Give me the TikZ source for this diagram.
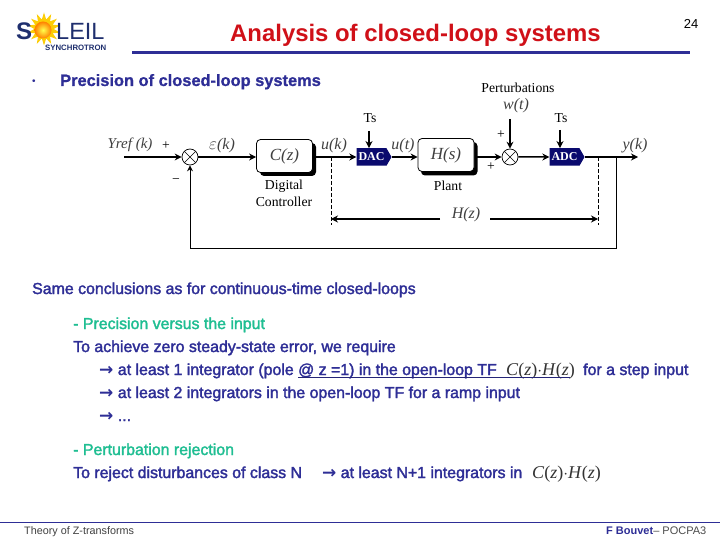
\documentclass[tikz,border=0pt]{standalone}
\usepackage{fontspec}
\setmainfont{Liberation Sans}
\newfontfamily\serifface{Liberation Serif}
\newfontfamily\smear[FakeBold=2]{Liberation Sans}
\newfontfamily\headface[FakeBold=1]{Liberation Sans Bold}
\newfontfamily\arrowface{DejaVu Sans Bold}
\usetikzlibrary{arrows.meta,shapes.geometric,shapes.symbols}
\definecolor{slideblue}{HTML}{2E2E96}
\definecolor{slidegreen}{HTML}{1FBE92}
\definecolor{titlered}{HTML}{D01018}
\definecolor{navybox}{HTML}{0A0A6E}
\definecolor{logonavy}{HTML}{1F2F6E}
\newcommand{\thenthe}{{\arrowface\fontsize{17}{17}\selectfont →}}
\newcommand{\CH}{{\serifface\fontsize{18}{18}\selectfont\textcolor{black!80}{\textit{C}(\textit{z})$\cdot$\textit{H}(\textit{z})}}}
\tikzset{
  x=1pt,y=-1pt,
  body/.style={anchor=base west,inner sep=0pt,text=slideblue,font=\smear\fontsize{15.9}{16}\selectfont},
  green/.style={body,text=slidegreen},
  serif/.style={inner sep=0pt,align=center,font=\serifface\fontsize{13.7}{17}\selectfont},
  mathlbl/.style={inner sep=0pt,text=black!75,font=\serifface\itshape\fontsize{16}{16}\selectfont},
  block/.style={draw=black,fill=white,rounded corners=4pt,line width=0.8pt,minimum width=57pt,minimum height=32pt,inner sep=0pt},
  summer/.style={circle,draw=black,line width=0.7pt,fill=white,minimum size=16pt,inner sep=0pt,
    path picture={\draw[line width=0.6pt] (path picture bounding box.north west)--(path picture bounding box.south east)
      (path picture bounding box.north east)--(path picture bounding box.south west);}},
  converter/.style={signal,signal to=east,signal pointer angle=120,fill=navybox,text=white,inner sep=0pt,minimum width=35pt,minimum height=17.5pt,
    font=\serifface\bfseries\fontsize{12}{12}\selectfont},
  conn/.style={line width=1.5pt,-{Stealth[length=7pt,width=7pt]}},
  thin conn/.style={line width=0.9pt},
  dash guide/.style={line width=0.7pt,dash pattern=on 4pt off 2pt},
}
\begin{document}
\begin{tikzpicture}
\useasboundingbox (0,0) rectangle (720,540);
\fill[white] (0,0) rectangle (720,540);
% logo
\node[star,star points=14,star point ratio=1.7,fill=yellow!65!orange,minimum size=33pt,inner sep=0pt] (sunrays) at (44,29) {};
\node[circle,inner color=yellow!70!white,outer color=orange,minimum size=17pt,inner sep=0pt] (sundisc) at (43,30) {};
\node[anchor=base west,inner sep=0pt,text=logonavy,font=\bfseries\fontsize{24}{24}\selectfont] (logoS) at (16,40) {S};
\node[anchor=base west,inner sep=0pt,text=logonavy,font=\fontsize{23.5}{24}\selectfont] (logoL) at (56,40) {LEIL};
\node[anchor=base west,inner sep=0pt,text=logonavy,font=\bfseries\fontsize{7.8}{8}\selectfont] (logoB) at (45,51) {SYNCHROTRON};
% title
\node[anchor=base,inner sep=0pt,text=titlered,font=\bfseries\fontsize{23.9}{24}\selectfont] (title) at (415.5,42) {Analysis of closed-loop systems};
\node[inner sep=0pt,font=\fontsize{13}{13}\selectfont] (pageno) at (691,24) {24};
\coordinate (ruleL) at (132,53); \coordinate (ruleR) at (690,53);
\draw[slideblue,line width=3pt] (ruleL) -- (ruleR);
% heading
\node[anchor=base,inner sep=0pt,text=slideblue] (bullet) at (34,85) {\textbullet};
\node[body,font=\headface\fontsize{16.4}{17}\selectfont] (head) at (60,86) {Precision of closed-loop systems};
% block diagram
\node[summer] (s1) at (190,157) {};
\fill[black,rounded corners=4pt] (260,143) rectangle (316,176);
\node[block,minimum width=56pt,minimum height=33pt] (C) at (284.5,156) {\serifface\itshape\fontsize{17}{17}\selectfont\textcolor{black!75}{C}\textcolor{black!75}{(z)}};
\node[converter] (dac) at (371.5,157) {DAC};
\fill[black,rounded corners=4pt] (421,142) rectangle (477.5,175.5);
\node[block,minimum width=56pt,minimum height=33pt] (H) at (446,155) {\serifface\itshape\fontsize{17}{17}\selectfont\textcolor{black!75}{H}\textcolor{black!75}{(s)}};
\node[summer] (s2) at (510,157) {};
\node[converter] (adc) at (564.5,157) {ADC};
\coordinate (in) at (124,157);
\coordinate (out) at (638,157);
\coordinate (tap) at (616,157);
\coordinate (fbA) at (616,248);
\coordinate (fbB) at (190,248);
\coordinate (dash1) at (331,157);
\coordinate (dash1b) at (331,225);
\coordinate (dash2) at (598,157);
\coordinate (dash2b) at (598,225);
\coordinate (hzL) at (331,219);
\coordinate (hzR) at (598,219);
\coordinate (ts1) at (369,131);
\coordinate (ts2) at (560,130);
\coordinate (w) at (510,119);
\coordinate (cout) at (316,157);
\coordinate (hout) at (477,157);
\draw[conn] (in) -- (s1);
\draw[conn] (s1) -- (C.west |- s1);
\draw[conn] (cout) -- (dac.west);
\draw[conn] (dac.east) -- (H.west |- dac);
\draw[conn] (hout) -- (s2.west);
\draw[conn] (s2) -- (adc);
\draw[conn] (adc.east) -- (out);
\draw[conn] (ts1) -- (dac.north -| ts1);
\draw[conn] (ts2) -- (adc.north -| ts2);
\draw[conn] (w) -- (s2);
\draw[thin conn] (tap) -- (fbA) -- (fbB);
\draw[thin conn,-{Stealth[length=6pt,width=6pt]}] (fbB) -- (s1);
\draw[dash guide] (dash1) -- (dash1b);
\draw[dash guide] (dash2) -- (dash2b);
\node[mathlbl] (hz) at (466,215) {H(z)};
\draw[conn] (440,219) -- (hzL);
\draw[conn] (490,219) -- (hzR);
% labels
\node[mathlbl,font=\serifface\itshape\fontsize{15}{15}\selectfont] (yref) at (130,145) {Yref (k)};
\node[mathlbl] (eps) at (222,146) {$\varepsilon$(k)};
\node[mathlbl] (uk) at (334,146) {u(k)};
\node[mathlbl] (ut) at (403,146) {u(t)};
\node[mathlbl] (wt) at (516,106) {w(t)};
\node[mathlbl] (yk) at (635,146) {y(k)};
\node[serif] (plus1) at (166,146) {+};
\node[serif] (minus1) at (176,181) {−};
\node[serif] (plus2) at (501,135) {+};
\node[serif] (plus3) at (491,167) {+};
\node[serif] (ts1l) at (370,118) {Ts};
\node[serif] (ts2l) at (561,118) {Ts};
\node[serif] (pert) at (518,88) {Perturbations};
\node[serif] (digi) at (284,193.5) {Digital\\Controller};
\node[serif] (plant) at (448,186) {Plant};
% body text
\node[body] (t1) at (32,294) {Same conclusions as for continuous-time closed-loops};
\node[green] (t2) at (73,329) {- Precision versus the input};
\node[body] (t3) at (73,352) {To achieve zero steady-state error, we require};
\node[body] (t4) at (99,375) {\thenthe{} at least 1 integrator (pole @ z =1) in the open-loop TF};
\node[anchor=base,inner sep=0pt] (ch1) at (540.5,375) {\CH};
\node[body] (t5) at (583,375) {for a step input};
\node[body] (t6) at (99,398) {\thenthe{} at least 2 integrators in the open-loop TF for a ramp input};
\node[body] (t7) at (99,421) {\thenthe{} ...};
\node[green] (t8) at (73,455) {- Perturbation rejection};
\node[body] (t9) at (73,478) {To reject disturbances of class N\hspace{20pt}\thenthe{} at least N+1 integrators in};
\node[anchor=base,inner sep=0pt] (ch2) at (566.5,478) {\CH};
\coordinate (ulL) at (298,377); \coordinate (ulR) at (570,377);
\draw[slideblue!80!black,line width=0.8pt] (ulL) -- (ulR);
% footer
\coordinate (footL) at (0,522); \coordinate (footR) at (720,522);
\draw[slideblue,line width=0.8pt] (footL) -- (footR);
\node[anchor=base west,inner sep=0pt,text=black!75,font=\fontsize{10.8}{12}\selectfont] (f1) at (24,534) {Theory of Z-transforms};
\node[anchor=base west,inner sep=0pt,font=\fontsize{11}{12}\selectfont] (f2) at (606,534) {\textcolor{slideblue}{\bfseries F Bouvet}\textcolor{black!70}{ – POCPA3}};
\end{tikzpicture}
\end{document}
